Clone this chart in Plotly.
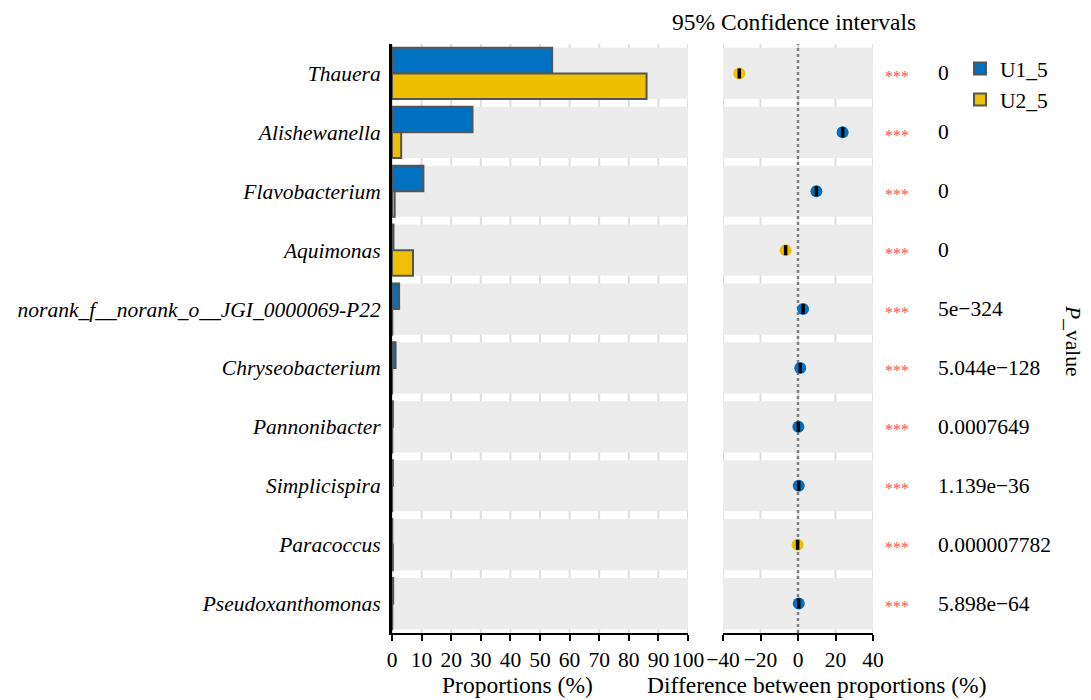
import plotly.graph_objects as go

categories = ["Thauera", "Alishewanella", "Flavobacterium", "Aquimonas",
              "norank_f__norank_o__JGI_0000069-P22", "Chryseobacterium",
              "Pannonibacter", "Simplicispira", "Paracoccus", "Pseudoxanthomonas"]
u1_5 = [54.1, 27.2, 10.6, 0.5, 2.4, 1.2, 0.3, 0.3, 0.1, 0.4]
u2_5 = [86.0, 3.1, 0.9, 7.1, 0.1, 0.05, 0.1, 0.05, 0.3, 0.1]
diff = [-31.3, 23.8, 9.8, -6.6, 2.7, 1.2, 0.2, 0.4, -0.2, 0.4]
ci_half = [0.4, 0.4, 0.4, 0.4, 0.4, 0.4, 0.4, 0.4, 0.4, 0.4]
p_values = ["0", "0", "0", "0", "5e\u2212324", "5.044e\u2212128", "0.0007649",
            "1.139e\u221236", "0.000007782", "5.898e\u221264"]
stars = ["***"] * 10
x1_ticks = [0, 10, 20, 30, 40, 50, 60, 70, 80, 90, 100]
x2_ticks = [-40, -20, 0, 20, 40]

BLUE = "#0070c0"
YELLOW = "#efc000"
FONT = "Liberation Serif"
OFF = 8                      # page body margin of the html page
W, H = 1091 - OFF, 700 - OFF
TOP, BOT = 44, 633           # plot area top / bottom in window pixels


def px(xp):
    return (xp - OFF) / W


def py(yp):
    return (BOT - yp) / (BOT - TOP)


fig = go.Figure()
fig.add_trace(go.Bar(y=categories, x=u1_5, orientation="h", name="U1_5",
                     marker=dict(color=BLUE, line=dict(color="#555555", width=2)),
                     xaxis="x", yaxis="y"))
fig.add_trace(go.Bar(y=categories, x=u2_5, orientation="h", name="U2_5",
                     marker=dict(color=YELLOW, line=dict(color="#555555", width=2)),
                     xaxis="x", yaxis="y"))

pt_colors = [BLUE if d > 0 else YELLOW for d in diff]
fig.add_trace(go.Scatter(x=diff, y=categories, mode="markers", xaxis="x2", yaxis="y2",
                         marker=dict(size=12, color=pt_colors), showlegend=False,
                         hoverinfo="skip"))
fig.add_trace(go.Scatter(x=diff, y=categories, mode="markers", xaxis="x2", yaxis="y2",
                         marker=dict(size=1, color="rgba(0,0,0,0)"), showlegend=False,
                         error_x=dict(type="data", array=ci_half, color="black",
                                      thickness=2, width=5)))

GRID = dict(color="#dedede", width=2)
shapes = []
# vertical grid lines (drawn first, so the grey bands cover them)
for t in x1_ticks:
    shapes.append(dict(type="line", xref="x", yref="y domain", x0=t, x1=t, y0=0, y1=1,
                       line=GRID, layer="below"))
for t in x2_ticks:
    shapes.append(dict(type="line", xref="x2", yref="y2 domain", x0=t, x1=t, y0=0, y1=1,
                       line=GRID, layer="below"))
# grey bands behind every category row
for i in range(len(categories)):
    for xr, yr in (("x domain", "y"), ("x2 domain", "y2")):
        shapes.append(dict(type="rect", xref=xr, yref=yr, x0=0, x1=1,
                           y0=i - 0.435, y1=i + 0.435, fillcolor="#ececec",
                           line=dict(width=0), layer="below"))
shapes.append(dict(type="line", xref="x2", yref="y2 domain", x0=0, x1=0, y0=0, y1=1,
                   line=dict(color="#808080", width=2.5, dash="3px,3px"), layer="below"))

ann = []
for c, s, p in zip(categories, stars, p_values):
    ann.append(dict(xref="paper", yref="y", x=px(897), y=c, text=s, showarrow=False,
                    xanchor="center", yanchor="middle", yshift=-3,
                    font=dict(family=FONT, size=16, color="#ff4d4d")))
    ann.append(dict(xref="paper", yref="y", x=px(936), y=c, text=p, showarrow=False,
                    xanchor="left", yanchor="middle",
                    font=dict(family=FONT, size=21.5, color="black")))
ann.append(dict(xref="paper", yref="paper", x=px(794), y=py(22), text="95% Confidence intervals",
                showarrow=False, xanchor="center", yanchor="middle",
                font=dict(family=FONT, size=23.5, color="black")))
ann.append(dict(xref="paper", yref="paper", x=px(517), y=py(685), text="Proportions (%)",
                showarrow=False, xanchor="center", yanchor="middle",
                font=dict(family=FONT, size=23.5, color="black")))
ann.append(dict(xref="paper", yref="paper", x=px(817), y=py(685),
                text="Difference between proportions (%)",
                showarrow=False, xanchor="center", yanchor="middle",
                font=dict(family=FONT, size=23.5, color="black")))
ann.append(dict(xref="paper", yref="paper", x=px(1073), y=py(340), text="<i>P</i>_value",
                showarrow=False, xanchor="center", yanchor="middle", textangle=90,
                font=dict(family=FONT, size=21.5, color="black")))

axis_common = dict(showgrid=False, zeroline=False,
                   showline=True, linecolor="black", linewidth=2, ticks="outside",
                   ticklen=6, tickwidth=2, tickcolor="black", automargin=False,
                   tickfont=dict(family=FONT, size=21.5, color="black"))

fig.update_layout(
    width=W, height=H,
    template="none",
    paper_bgcolor="white", plot_bgcolor="white",
    margin=dict(l=0, r=0, t=TOP - OFF, b=700 - BOT, pad=0),
    barmode="group", bargap=0.13, bargroupgap=0,
    font=dict(family=FONT, size=21.5, color="black"),
    xaxis=dict(domain=[px(392), px(688)], range=[0, 100], tickvals=x1_ticks, anchor="y",
               **axis_common),
    xaxis2=dict(domain=[px(723), px(873)], range=[-40, 40], tickvals=x2_ticks, anchor="y2",
                **axis_common),
    yaxis=dict(domain=[0, 1], type="category", categoryorder="array",
               categoryarray=categories, range=[9.5, -0.5], anchor="x",
               showgrid=False, zeroline=False, showline=True, linecolor="black",
               linewidth=3, ticks="", ticklabelstandoff=4, automargin=False,
               tickfont=dict(family=FONT, size=21.5, color="black", style="italic")),
    yaxis2=dict(domain=[0, 1], type="category", matches="y", anchor="x2",
                showgrid=False, zeroline=False, showline=False, showticklabels=False,
                ticks="", automargin=False),
    shapes=shapes,
    annotations=ann,
    showlegend=True,
    legend=dict(x=px(960), y=py(48), xanchor="left", yanchor="top",
                font=dict(family=FONT, size=21.5, color="black"),
                bgcolor="rgba(0,0,0,0)", borderwidth=0, itemwidth=30,
                tracegroupgap=0, traceorder="normal"),
)

fig.write_html("out.html")
